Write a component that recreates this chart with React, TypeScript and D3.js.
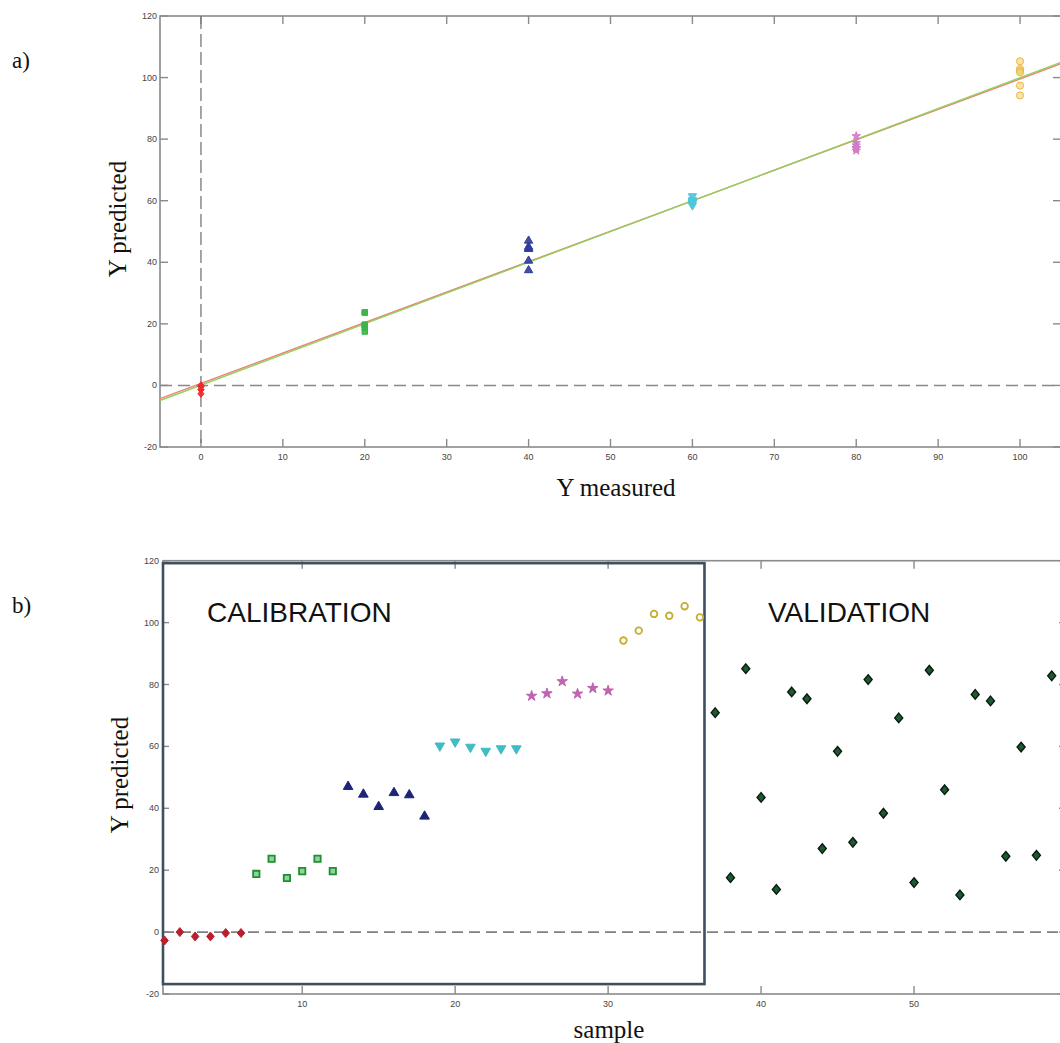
import React, { useEffect, useRef } from 'react';
import * as d3 from 'd3';

// calibration samples 1..36, six per level
const levels = [0, 20, 40, 60, 80, 100];
const calRed = [-2.7, 0, -1.4, -1.4, -0.3, -0.3];
const calGreen = [18.8, 23.7, 17.5, 19.7, 23.7, 19.7];
const calBlue = [47, 44.5, 40.5, 45, 44.3, 37.4];
const calCyan = [60.2, 61.5, 59.8, 58.5, 59.3, 59.3];
const calMagenta = [76.3, 77.1, 81, 77, 78.8, 78];
const calGold = [94.2, 97.4, 102.8, 102.2, 105.3, 101.7];

// validation samples 37..59
const valValues = [
  70.9, 17.6, 85.1, 43.5, 13.8, 77.6, 75.4, 27, 58.4, 29, 81.6, 38.4, 69.2, 16,
  84.6, 46, 12, 76.8, 74.7, 24.5, 59.8, 24.8, 82.8,
];

// fitted lines in panel a (x,y end points)
const fitRed = [[-5, -4.3], [105, 104.5]];
const fitGreen = [[-5, -4.9], [105, 104.9]];

const yTicks = [-20, 0, 20, 40, 60, 80, 100, 120];
const xTicksA = [0, 10, 20, 30, 40, 50, 60, 70, 80, 90, 100];
const xTicksB = [10, 20, 30, 40, 50];

// diamond drawn as a slightly tall rotated square
const diamond = {
  draw(ctx, size) {
    const w = Math.sqrt(size) / 2;
    const h = w * 1.2;
    ctx.moveTo(0, -h);
    ctx.lineTo(w, 0);
    ctx.lineTo(0, h);
    ctx.lineTo(-w, 0);
    ctx.closePath();
  },
};

const App = () => {
  const ref = useRef();
  useEffect(() => {
    const svg = d3.select(ref.current);
    svg.selectAll('*').remove();

    const sans = 'Liberation Sans, Arial, sans-serif';
    const serif = 'Liberation Serif, Times New Roman, serif';
    const tickCol = '#444';
    const spine = '#8a8a8a';

    const groups = [
      { vals: calRed, sym: diamond, a: '#ee2a2a', b: '#b8202e', rot: 0 },
      { vals: calGreen, sym: d3.symbolSquare, a: '#3cb449', b: '#1f8f2f', rot: 0, open: true },
      { vals: calBlue, sym: d3.symbolTriangle, a: '#2f3c9c', b: '#1d2478', rot: 0 },
      { vals: calCyan, sym: d3.symbolTriangle, a: '#4cc6dc', b: '#3fbcc4', rot: 180 },
      { vals: calMagenta, sym: d3.symbolStar, a: '#d27ac8', b: '#c064b0', rot: 0 },
      { vals: calGold, sym: d3.symbolCircle, a: '#eab840', b: '#c8ac2c', rot: 0, ring: true },
    ];

    // ---------------- panel a ----------------
    const xa = d3.scaleLinear().domain([-5, 105]).range([160, 1061]);
    const ya = d3.scaleLinear().domain([-20, 120]).range([447, 16]);
    const ga = svg.append('g');

    // frame
    ga.append('rect')
      .attr('x', xa(-5)).attr('y', ya(120))
      .attr('width', xa(105) - xa(-5)).attr('height', ya(-20) - ya(120))
      .attr('fill', 'none').attr('stroke', spine).attr('stroke-width', 1.6);

    // ticks
    xTicksA.forEach((t) => {
      ga.append('line').attr('x1', xa(t)).attr('x2', xa(t))
        .attr('y1', ya(-20)).attr('y2', ya(-20) - 8).attr('stroke', spine).attr('stroke-width', 1.4);
      ga.append('line').attr('x1', xa(t)).attr('x2', xa(t))
        .attr('y1', ya(120)).attr('y2', ya(120) + 8).attr('stroke', spine).attr('stroke-width', 1.4);
      ga.append('text').attr('x', xa(t)).attr('y', ya(-20) + 13)
        .attr('text-anchor', 'middle').attr('font-family', sans).attr('font-size', 9)
        .attr('fill', tickCol).text(t);
    });
    yTicks.forEach((t) => {
      ga.append('line').attr('x1', xa(-5)).attr('x2', xa(-5) + 8)
        .attr('y1', ya(t)).attr('y2', ya(t)).attr('stroke', spine).attr('stroke-width', 1.4);
      ga.append('line').attr('x1', xa(105)).attr('x2', xa(105) - 8)
        .attr('y1', ya(t)).attr('y2', ya(t)).attr('stroke', spine).attr('stroke-width', 1.4);
      ga.append('text').attr('x', xa(-5) - 3).attr('y', ya(t) + 3)
        .attr('text-anchor', 'end').attr('font-family', sans).attr('font-size', 9)
        .attr('fill', tickCol).text(t);
    });

    // zero lines
    ga.append('line').attr('x1', xa(0)).attr('x2', xa(0))
      .attr('y1', ya(120)).attr('y2', ya(-20))
      .attr('stroke', '#777').attr('stroke-width', 1.3).attr('stroke-dasharray', '13,5');
    ga.append('line').attr('x1', xa(-5)).attr('x2', xa(105))
      .attr('y1', ya(0)).attr('y2', ya(0))
      .attr('stroke', '#888').attr('stroke-width', 1.6).attr('stroke-dasharray', '12,6');

    // fit lines
    const line = d3.line().x((d) => xa(d[0])).y((d) => ya(d[1]));
    ga.append('path').datum(fitRed).attr('d', line)
      .attr('fill', 'none').attr('stroke', '#f08070').attr('stroke-width', 1.4);
    ga.append('path').datum(fitGreen).attr('d', line)
      .attr('fill', 'none').attr('stroke', '#8fd060').attr('stroke-width', 1.4);

    // points
    groups.forEach((g, i) => {
      const size = g.sym === d3.symbolCircle ? 40 : g.sym === d3.symbolStar ? 22 : g.sym === diamond ? 36 : 30;
      ga.selectAll(null).data(g.vals).enter().append('path')
        .attr('d', d3.symbol().type(g.sym).size(size))
        .attr('transform', (d) => `translate(${xa(levels[i])},${ya(d)}) rotate(${g.rot})`)
        .attr('fill', g.ring ? '#f4d070' : g.a)
        .attr('fill-opacity', g.ring ? 0.6 : 0.9)
        .attr('stroke', g.a).attr('stroke-width', 1);
    });

    // titles
    ga.append('text').attr('x', 12).attr('y', 68)
      .attr('font-family', serif).attr('font-size', 23).attr('fill', '#111').text('a)');
    ga.append('text').attr('transform', `translate(126,219) rotate(-90)`)
      .attr('text-anchor', 'middle').attr('font-family', serif).attr('font-size', 25)
      .attr('fill', '#111').text('Y predicted');
    ga.append('text').attr('x', 616).attr('y', 496)
      .attr('text-anchor', 'middle').attr('font-family', serif).attr('font-size', 25)
      .attr('fill', '#111').text('Y measured');

    // ---------------- panel b ----------------
    const xb = d3.scaleLinear().domain([0.9, 60]).range([163, 1067]);
    const yb = d3.scaleLinear().domain([-20, 120]).range([994, 560.7]);
    const gb = svg.append('g');

    gb.append('rect')
      .attr('x', xb(0.9)).attr('y', yb(120))
      .attr('width', xb(60) - xb(0.9)).attr('height', yb(-20) - yb(120))
      .attr('fill', 'none').attr('stroke', spine).attr('stroke-width', 1.6);

    xTicksB.forEach((t) => {
      gb.append('line').attr('x1', xb(t)).attr('x2', xb(t))
        .attr('y1', yb(-20)).attr('y2', yb(-20) - 8).attr('stroke', spine).attr('stroke-width', 1.4);
      gb.append('line').attr('x1', xb(t)).attr('x2', xb(t))
        .attr('y1', yb(120)).attr('y2', yb(120) + 8).attr('stroke', spine).attr('stroke-width', 1.4);
      gb.append('text').attr('x', xb(t)).attr('y', yb(-20) + 13)
        .attr('text-anchor', 'middle').attr('font-family', sans).attr('font-size', 9)
        .attr('fill', tickCol).text(t);
    });
    yTicks.forEach((t) => {
      gb.append('line').attr('x1', xb(0.9)).attr('x2', xb(0.9) + 6)
        .attr('y1', yb(t)).attr('y2', yb(t)).attr('stroke', spine).attr('stroke-width', 1.4);
      gb.append('line').attr('x1', xb(60)).attr('x2', xb(60) - 8)
        .attr('y1', yb(t)).attr('y2', yb(t)).attr('stroke', spine).attr('stroke-width', 1.4);
      gb.append('text').attr('x', xb(0.9) - 4).attr('y', yb(t) + 3)
        .attr('text-anchor', 'end').attr('font-family', sans).attr('font-size', 9)
        .attr('fill', tickCol).text(t);
    });

    gb.append('line').attr('x1', xb(0.9)).attr('x2', xb(60))
      .attr('y1', yb(0)).attr('y2', yb(0))
      .attr('stroke', '#808080').attr('stroke-width', 1.6).attr('stroke-dasharray', '11,6');

    // calibration box
    gb.append('rect')
      .attr('x', xb(0.9)).attr('y', yb(119.2))
      .attr('width', xb(36.3) - xb(0.9)).attr('height', yb(-16.8) - yb(119.2))
      .attr('fill', 'none').attr('stroke', '#3e4f60').attr('stroke-width', 2.6);

    // calibration points
    groups.forEach((g, i) => {
      const size = g.sym === d3.symbolCircle ? 34 : g.sym === d3.symbolStar ? 34 : g.sym === diamond ? 56 : 40;
      gb.selectAll(null).data(g.vals).enter().append('path')
        .attr('d', d3.symbol().type(g.sym).size(size))
        .attr('transform', (d, j) => `translate(${xb(i * 6 + j + 1)},${yb(d)}) rotate(${g.rot})`)
        .attr('fill', g.ring ? 'none' : g.open ? '#8fd49a' : g.b)
        .attr('stroke', g.b).attr('stroke-width', g.ring || g.open ? 1.8 : 1);
    });

    // validation points
    gb.selectAll(null).data(valValues).enter().append('path')
      .attr('d', d3.symbol().type(diamond).size(64))
      .attr('transform', (d, j) => `translate(${xb(37 + j)},${yb(d)})`)
      .attr('fill', '#1d5a30').attr('stroke', '#0a1a0f').attr('stroke-width', 1.4);

    gb.append('text').attr('x', 207).attr('y', 622)
      .attr('font-family', sans).attr('font-size', 28).attr('fill', '#111').text('CALIBRATION');
    gb.append('text').attr('x', 768).attr('y', 622)
      .attr('font-family', sans).attr('font-size', 28).attr('fill', '#111').text('VALIDATION');

    gb.append('text').attr('x', 12).attr('y', 613)
      .attr('font-family', serif).attr('font-size', 23).attr('fill', '#111').text('b)');
    gb.append('text').attr('transform', `translate(128,775) rotate(-90)`)
      .attr('text-anchor', 'middle').attr('font-family', serif).attr('font-size', 25)
      .attr('fill', '#111').text('Y predicted');
    gb.append('text').attr('x', 609).attr('y', 1038)
      .attr('text-anchor', 'middle').attr('font-family', serif).attr('font-size', 25)
      .attr('fill', '#111').text('sample');
  }, []);

  return (
    <svg
      ref={ref}
      width={1060}
      height={1043}
      style={{ position: 'absolute', left: 0, top: 0, background: '#fff' }}
    />
  );
};

export default App;
